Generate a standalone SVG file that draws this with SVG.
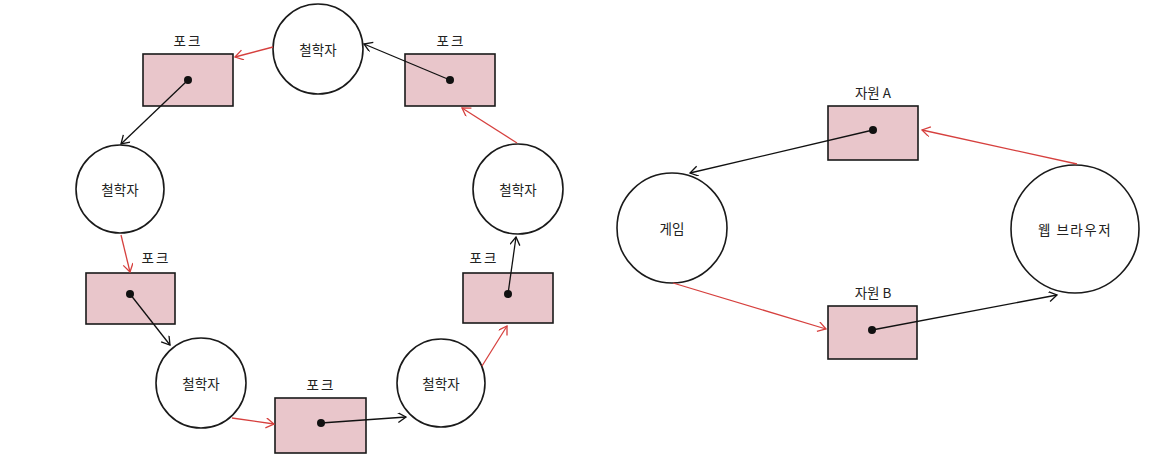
<svg xmlns="http://www.w3.org/2000/svg" width="1162" height="475" viewBox="0 0 1162 475">
<style>
.c{fill:#ffffff;stroke:#1a1a1a;stroke-width:1.6}
.r{fill:#e9c6cb;stroke:#1a1a1a;stroke-width:1.6}
.d{fill:#111}
.t{font-family:"Noto Sans CJK KR","Noto Sans",sans-serif;font-size:13.5px;fill:#222;text-anchor:middle}
.lb{letter-spacing:2px}
.red{stroke:#d6403e;stroke-width:1.3;fill:none;marker-end:url(#ar)}
.blk{stroke:#111;stroke-width:1.3;fill:none;marker-end:url(#ab)}
</style>
<defs>
<marker id="ar" markerUnits="userSpaceOnUse" markerWidth="12" markerHeight="12" refX="9" refY="5" orient="auto"><path d="M1,0 L9,5 L1,10" fill="none" stroke="#d6403e" stroke-width="1.3"/></marker>
<marker id="ab" markerUnits="userSpaceOnUse" markerWidth="12" markerHeight="12" refX="9" refY="5" orient="auto"><path d="M1,0 L9,5 L1,10" fill="none" stroke="#111" stroke-width="1.3"/></marker>
</defs>
<rect width="1162" height="475" fill="#ffffff"/>
<g id="phil-top"><circle class="c" cx="318" cy="49" r="45"/><text class="t" x="318" y="49" dominant-baseline="central">철학자</text></g>
<g id="phil-left"><circle class="c" cx="120" cy="189" r="44"/><text class="t" x="120" y="189" dominant-baseline="central">철학자</text></g>
<g id="phil-bl"><circle class="c" cx="201" cy="383" r="45"/><text class="t" x="201" y="383" dominant-baseline="central">철학자</text></g>
<g id="phil-br"><circle class="c" cx="441" cy="383" r="44"/><text class="t" x="441" y="383" dominant-baseline="central">철학자</text></g>
<g id="phil-right"><circle class="c" cx="518" cy="189" r="45"/><text class="t" x="518" y="189" dominant-baseline="central">철학자</text></g>
<g id="fork-tl"><rect class="r" x="143" y="54" width="90" height="52"/><circle class="d" cx="188" cy="80" r="4"/><text class="t lb" x="188" y="46">포크</text></g>
<g id="fork-tr"><rect class="r" x="405" y="54" width="90" height="52"/><circle class="d" cx="450" cy="80" r="4"/><text class="t lb" x="451" y="46">포크</text></g>
<g id="fork-l"><rect class="r" x="86" y="273" width="89" height="51"/><circle class="d" cx="130" cy="294" r="4"/><text class="t lb" x="156" y="263">포크</text></g>
<g id="fork-b"><rect class="r" x="275" y="398" width="91" height="55"/><circle class="d" cx="321" cy="423" r="4"/><text class="t lb" x="321" y="390">포크</text></g>
<g id="fork-r"><rect class="r" x="463" y="273" width="90" height="50"/><circle class="d" cx="508" cy="294" r="4"/><text class="t lb" x="484" y="263">포크</text></g>
<g id="game"><circle class="c" cx="672" cy="228" r="55"/><text class="t" x="672" y="228" dominant-baseline="central">게임</text></g>
<g id="browser"><circle class="c" cx="1075" cy="229" r="64"/><text class="t" x="1075" y="229" dominant-baseline="central" style="letter-spacing:1.5px">웹 브라우저</text></g>
<g id="res-a"><rect class="r" x="828" y="106" width="90" height="54"/><circle class="d" cx="873" cy="130" r="4"/><text class="t" x="873" y="98">자원 A</text></g>
<g id="res-b"><rect class="r" x="828" y="306" width="89" height="53"/><circle class="d" cx="872" cy="330" r="4"/><text class="t" x="873" y="298">자원 B</text></g>
<g id="connectors">
<line class="red" x1="273" y1="47" x2="235" y2="57"/>
<line class="blk" x1="450" y1="80" x2="364" y2="44"/>
<line class="blk" x1="188" y1="80" x2="121" y2="144"/>
<line class="red" x1="121" y1="235" x2="130" y2="272"/>
<line class="blk" x1="130" y1="294" x2="170" y2="345"/>
<line class="red" x1="232" y1="418" x2="274" y2="424"/>
<line class="blk" x1="321" y1="423" x2="406" y2="417"/>
<line class="red" x1="482" y1="366" x2="507" y2="326"/>
<line class="blk" x1="508" y1="294" x2="516" y2="237"/>
<line class="red" x1="517" y1="143" x2="462" y2="108"/>
<line class="blk" x1="873" y1="130" x2="690" y2="173"/>
<line class="red" x1="673" y1="283" x2="826" y2="329"/>
<line class="blk" x1="872" y1="330" x2="1057" y2="295"/>
<line class="red" x1="1077" y1="164" x2="922" y2="130"/>
</g>
</svg>
